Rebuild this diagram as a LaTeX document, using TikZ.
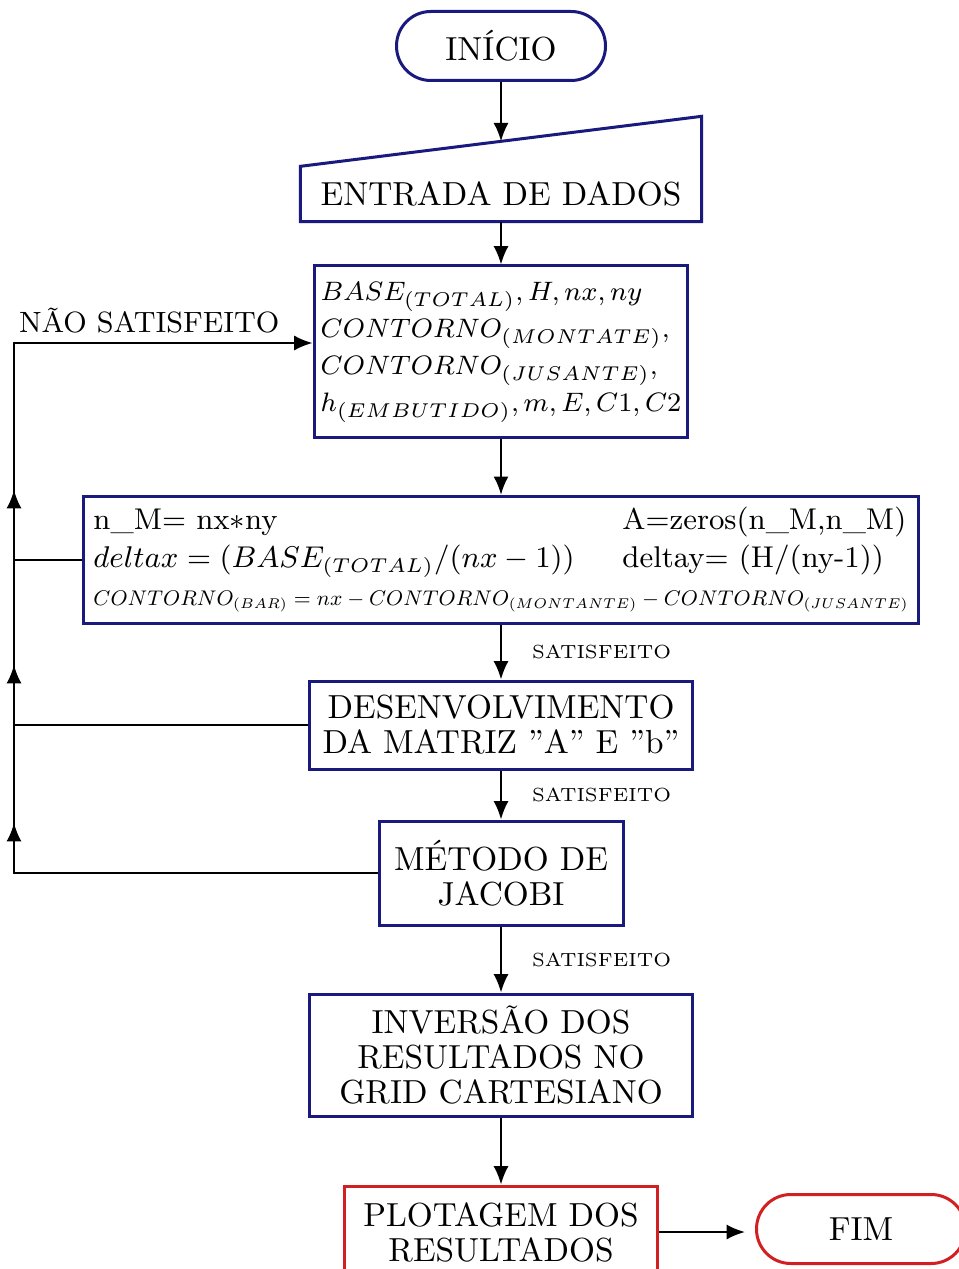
\documentclass[tikz,border=0pt]{standalone}
\usepackage{graphicx}
\usetikzlibrary{arrows.meta,positioning,calc}
\definecolor{navy}{HTML}{1A1A7E}
\definecolor{fimred}{HTML}{D11F22}
\tikzset{
  fbox/.style={draw=navy,line width=0.9pt,align=center,inner sep=2pt,
    font=\fontsize{10}{10.5}\selectfont},
  fred/.style={fbox,draw=fimred},
  fterm/.style={fbox,rounded corners=10.3pt,minimum width=62.7pt,minimum height=20.7pt},
  farr/.style={-{Latex[length=5.5pt,width=4.5pt]},line width=0.6pt},
  fline/.style={line width=0.6pt},
  flbl/.style={font=\fontsize{5.7}{7}\selectfont,inner sep=0pt}
}

\begin{document}
\begin{tikzpicture}[x=0.3pt,y=-0.3pt]
  \useasboundingbox (0,0) rectangle (958,1269);
  \node[fterm] (ini) at (501,46) {INÍCIO};
  \node[minimum width=120pt,minimum height=16.2pt,inner sep=0pt,
    font=\fontsize{10}{10.5}\selectfont] (ent) at (501,194) {ENTRADA DE DADOS};
  \draw[draw=navy,line width=0.9pt] (ent.north west) -- ($(ent.north east)+(0,-50)$)
    -- (ent.south east) -- (ent.south west) -- cycle;
  \coordinate (enttop) at ($(ent.north)+(0,-25)$);
  \node[fbox,minimum width=109.8pt,minimum height=51.6pt,align=left,
    font=\fontsize{8.3}{11.1}\selectfont] (par) at (501,352)
    {$BASE_{(TOTAL)}, H, nx, ny$\\
     $CONTORNO_{(MONTATE)},$\\
     $CONTORNO_{(JUSANTE)},$\\
     $h_{(EMBUTIDO)}, m, E, C1, C2$};
  \node[fbox,minimum width=250.5pt,minimum height=36.6pt,
    font=\fontsize{9}{11.4}\selectfont] (dis) at (501,560)
    {\begin{tabular}{@{}p{158.7pt}@{}p{85.8pt}@{}}
      n\_M= nx$\ast$ny & A=zeros(n\_M,n\_M)\\
      $deltax = (BASE_{(TOTAL)}/(nx-1))$ & deltay= (H/(ny-1))\\
      \multicolumn{2}{@{}l@{}}{\resizebox{244.5pt}{!}{%
        $CONTORNO_{(BAR)} = nx - CONTORNO_{(MONTANTE)} - CONTORNO_{(JUSANTE)}$}}
     \end{tabular}};
  \node[fbox,minimum width=114.9pt,minimum height=26.4pt] (des) at (501,725)
    {DESENVOLVIMENTO\\DA MATRIZ ”A” E ”b”};
  \node[fbox,minimum width=73.2pt,minimum height=31.2pt] (jac) at (501,873)
    {MÉTODO DE\\JACOBI};
  \node[fbox,minimum width=114.9pt,minimum height=36.6pt] (inv) at (501,1055)
    {INVERSÃO DOS\\RESULTADOS NO\\GRID CARTESIANO};
  \node[fred,minimum width=93.9pt,minimum height=27.6pt] (plo) at (501,1232)
    {PLOTAGEM DOS\\RESULTADOS};
  \node[fterm,draw=fimred] (fim) at (861,1229) {FIM};
  % main flow
  \draw[farr] (ini) -- (enttop);
  \draw[farr] (ent) -- (par);
  \draw[farr] (par) -- (dis);
  \draw[farr] (dis) -- node[flbl,right=9pt] {SATISFEITO} (des);
  \draw[farr] (des) -- node[flbl,right=9pt] {SATISFEITO} (jac);
  \draw[farr] (jac) -- node[flbl,right=9pt] {SATISFEITO} (inv);
  \draw[farr] (inv) -- (plo);
  \draw[farr,shorten >=3pt] (plo.east) -- (plo.east -| fim.west);
  % feedback loop
  \coordinate (lx) at (14,0);
  \coordinate (lb) at (14,343);
  \draw[farr] (jac.west) -- (jac.west -| lx) -- (lb)
    -- node[pos=0,anchor=south west,xshift=1.2pt,yshift=2.7pt,inner sep=0pt,
       font=\fontsize{8.8}{11}\selectfont] {NÃO SATISFEITO} (lb -| par.west);
  \draw[fline] (des.west) -- (des.west -| lx);
  \draw[fline] (dis.west) -- (dis.west -| lx);
  \draw[farr] (jac.west -| lx) -- (14,823);
  \draw[farr] (des.west -| lx) -- (14,665);
  \draw[farr] (dis.west -| lx) -- (14,490);
\end{tikzpicture}
\end{document}
